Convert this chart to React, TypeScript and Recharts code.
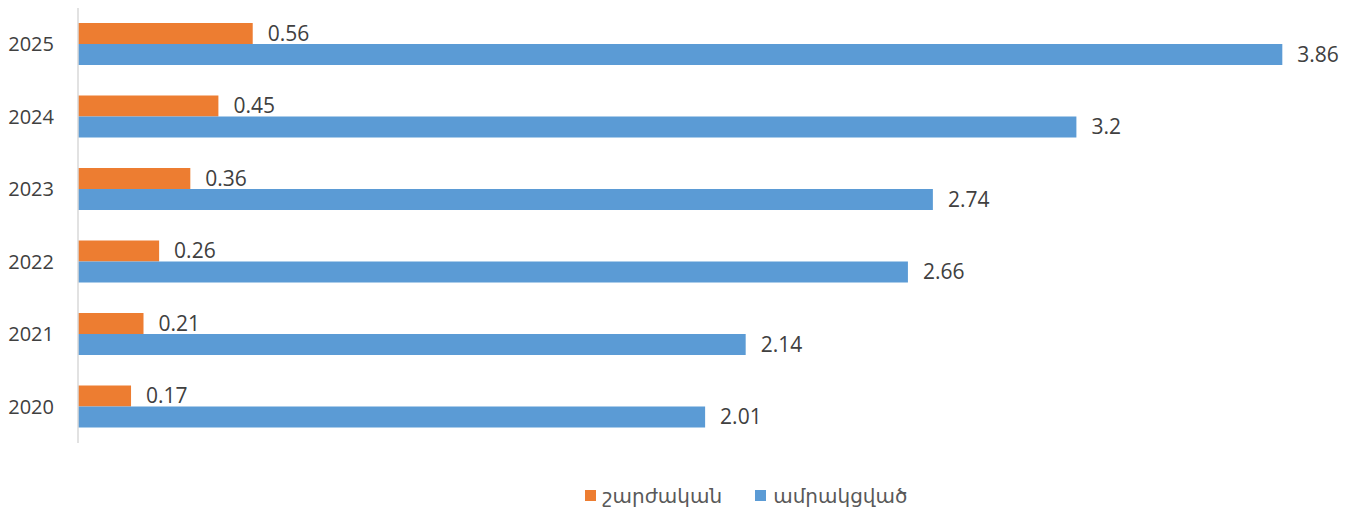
import { Bar, BarChart, LabelList, Legend, XAxis, YAxis } from "recharts"

const years = ["2020", "2021", "2022", "2023", "2024", "2025"]
const movable = [0.17, 0.21, 0.26, 0.36, 0.45, 0.56]
const fixed = [2.01, 2.14, 2.66, 2.74, 3.2, 3.86]
const seriesNames = ["շարժական", "ամրակցված"]
const colors = ["#ed7d31", "#5b9bd5"]

const data = years.map((year, i) => ({ year, movable: movable[i], fixed: fixed[i] }))

const font = "'Open Sans', 'DejaVu Sans', sans-serif"

function LegendBox() {
  return (
    <div style={{ display: "flex", justifyContent: "center", alignItems: "center", height: 24, fontFamily: font, fontSize: 20, color: "#595959", paddingLeft: 158 }}>
      {seriesNames.map((name, i) => (
        <div key={name} style={{ display: "flex", alignItems: "center", marginRight: i === 0 ? 33 : 0 }}>
          <span style={{ width: 11, height: 11, background: colors[i], display: "inline-block", marginRight: 7 }} />
          <span>{name}</span>
        </div>
      ))}
    </div>
  )
}

export default function App() {
  return (
    <div style={{ width: 1335, height: 502, background: "#fff" }}>
      <BarChart
        width={1335}
        height={502}
        data={data}
        layout="vertical"
        barGap={0}
        barSize={21}
        margin={{ top: 0, right: 17, bottom: 3, left: 0 }}
      >
        <XAxis type="number" domain={[0, 4]} hide />
        <YAxis
          type="category"
          dataKey="year"
          reversed
          width={70}
          tickLine={false}
          axisLine={{ stroke: "#d9d9d9", strokeWidth: 1.5 }}
          tickMargin={18}
          tick={{ fill: "#404040", fontSize: 20, fontFamily: font }}
        />
        <Legend verticalAlign="bottom" wrapperStyle={{ paddingTop: 40 }} content={() => <LegendBox />} />
        <Bar dataKey="movable" name={seriesNames[0]} fill={colors[0]} isAnimationActive={false}>
          <LabelList dataKey="movable" position="right" offset={15} fill="#404040" fontSize={21} fontFamily={font} />
        </Bar>
        <Bar dataKey="fixed" name={seriesNames[1]} fill={colors[1]} isAnimationActive={false}>
          <LabelList dataKey="fixed" position="right" offset={15} fill="#404040" fontSize={21} fontFamily={font} />
        </Bar>
      </BarChart>
    </div>
  )
}
